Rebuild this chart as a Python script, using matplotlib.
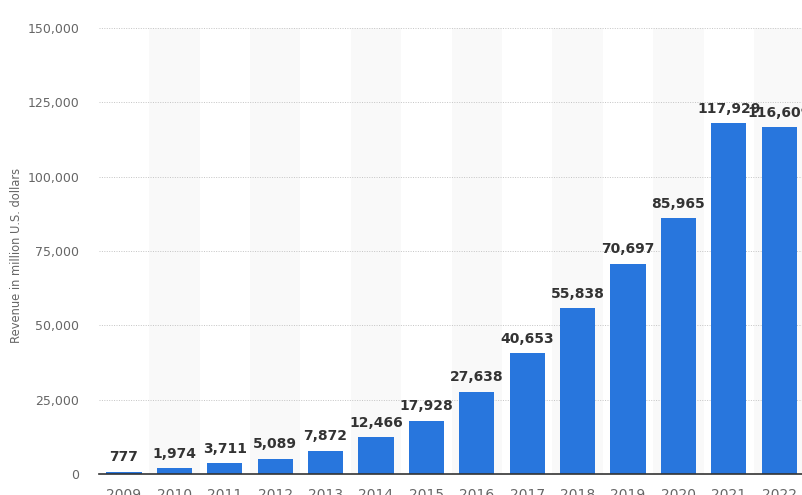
import numpy as np
import matplotlib.pyplot as plt

years = ["2009", "2010", "2011", "2012", "2013", "2014", "2015", "2016",
         "2017", "2018", "2019", "2020", "2021", "2022"]
revenue = [777, 1974, 3711, 5089, 7872, 12466, 17928, 27638,
           40653, 55838, 70697, 85965, 117929, 116609]
yticks = [0, 25000, 50000, 75000, 100000, 125000, 150000]

W, H = 802, 495
fig = plt.figure(figsize=(W / 100, H / 100), dpi=100)
# plot area in pixels: left 98.8, right runs past the image edge
x0, y_bot, y_top = 98.8, 474, 28
slot = 50.4
ax = fig.add_axes([x0 / W, (H - y_bot) / H, (W - x0) / W, (y_bot - y_top) / H])
x = np.arange(len(years))
ax.set_xlim(-0.5, -0.5 + (W - x0) / slot)
ax.set_ylim(0, 150000)

# alternating background bands
for i in x:
    if i % 2 == 1:
        ax.axvspan(i - 0.5, i + 0.5, color="#f9f9f9", zorder=0, lw=0)

ax.set_yticks(yticks)
ax.set_yticklabels([f"{v:,}" for v in yticks])
for v in yticks[1:]:
    ax.axhline(v, color="#c4c4c4", lw=0.7, ls=(0, (1, 1.5)), zorder=1)

ax.bar(x, revenue, width=0.7, color="#2876dd", zorder=2)
for xi, v in zip(x, revenue):
    ax.text(xi, v + 2500, f"{v:,}", ha="center", va="bottom",
            fontsize=10, fontweight="bold", color="#333333", zorder=3)

ax.set_xticks(x)
ax.set_xticklabels(years)
for s in ["top", "right", "left"]:
    ax.spines[s].set_visible(False)
ax.spines["bottom"].set_color("#333333")
ax.spines["bottom"].set_linewidth(1.2)
ax.tick_params(axis="both", length=0, colors="#666666", labelsize=9)
ax.tick_params(axis="y", pad=14)
ax.tick_params(axis="x", pad=10, labelsize=10)
fig.text(17 / W, 1 - 255 / H, "Revenue in million U.S. dollars", rotation=90,
         ha="center", va="center", fontsize=8.3, color="#666666")

fig.savefig("out.png", dpi=100)
